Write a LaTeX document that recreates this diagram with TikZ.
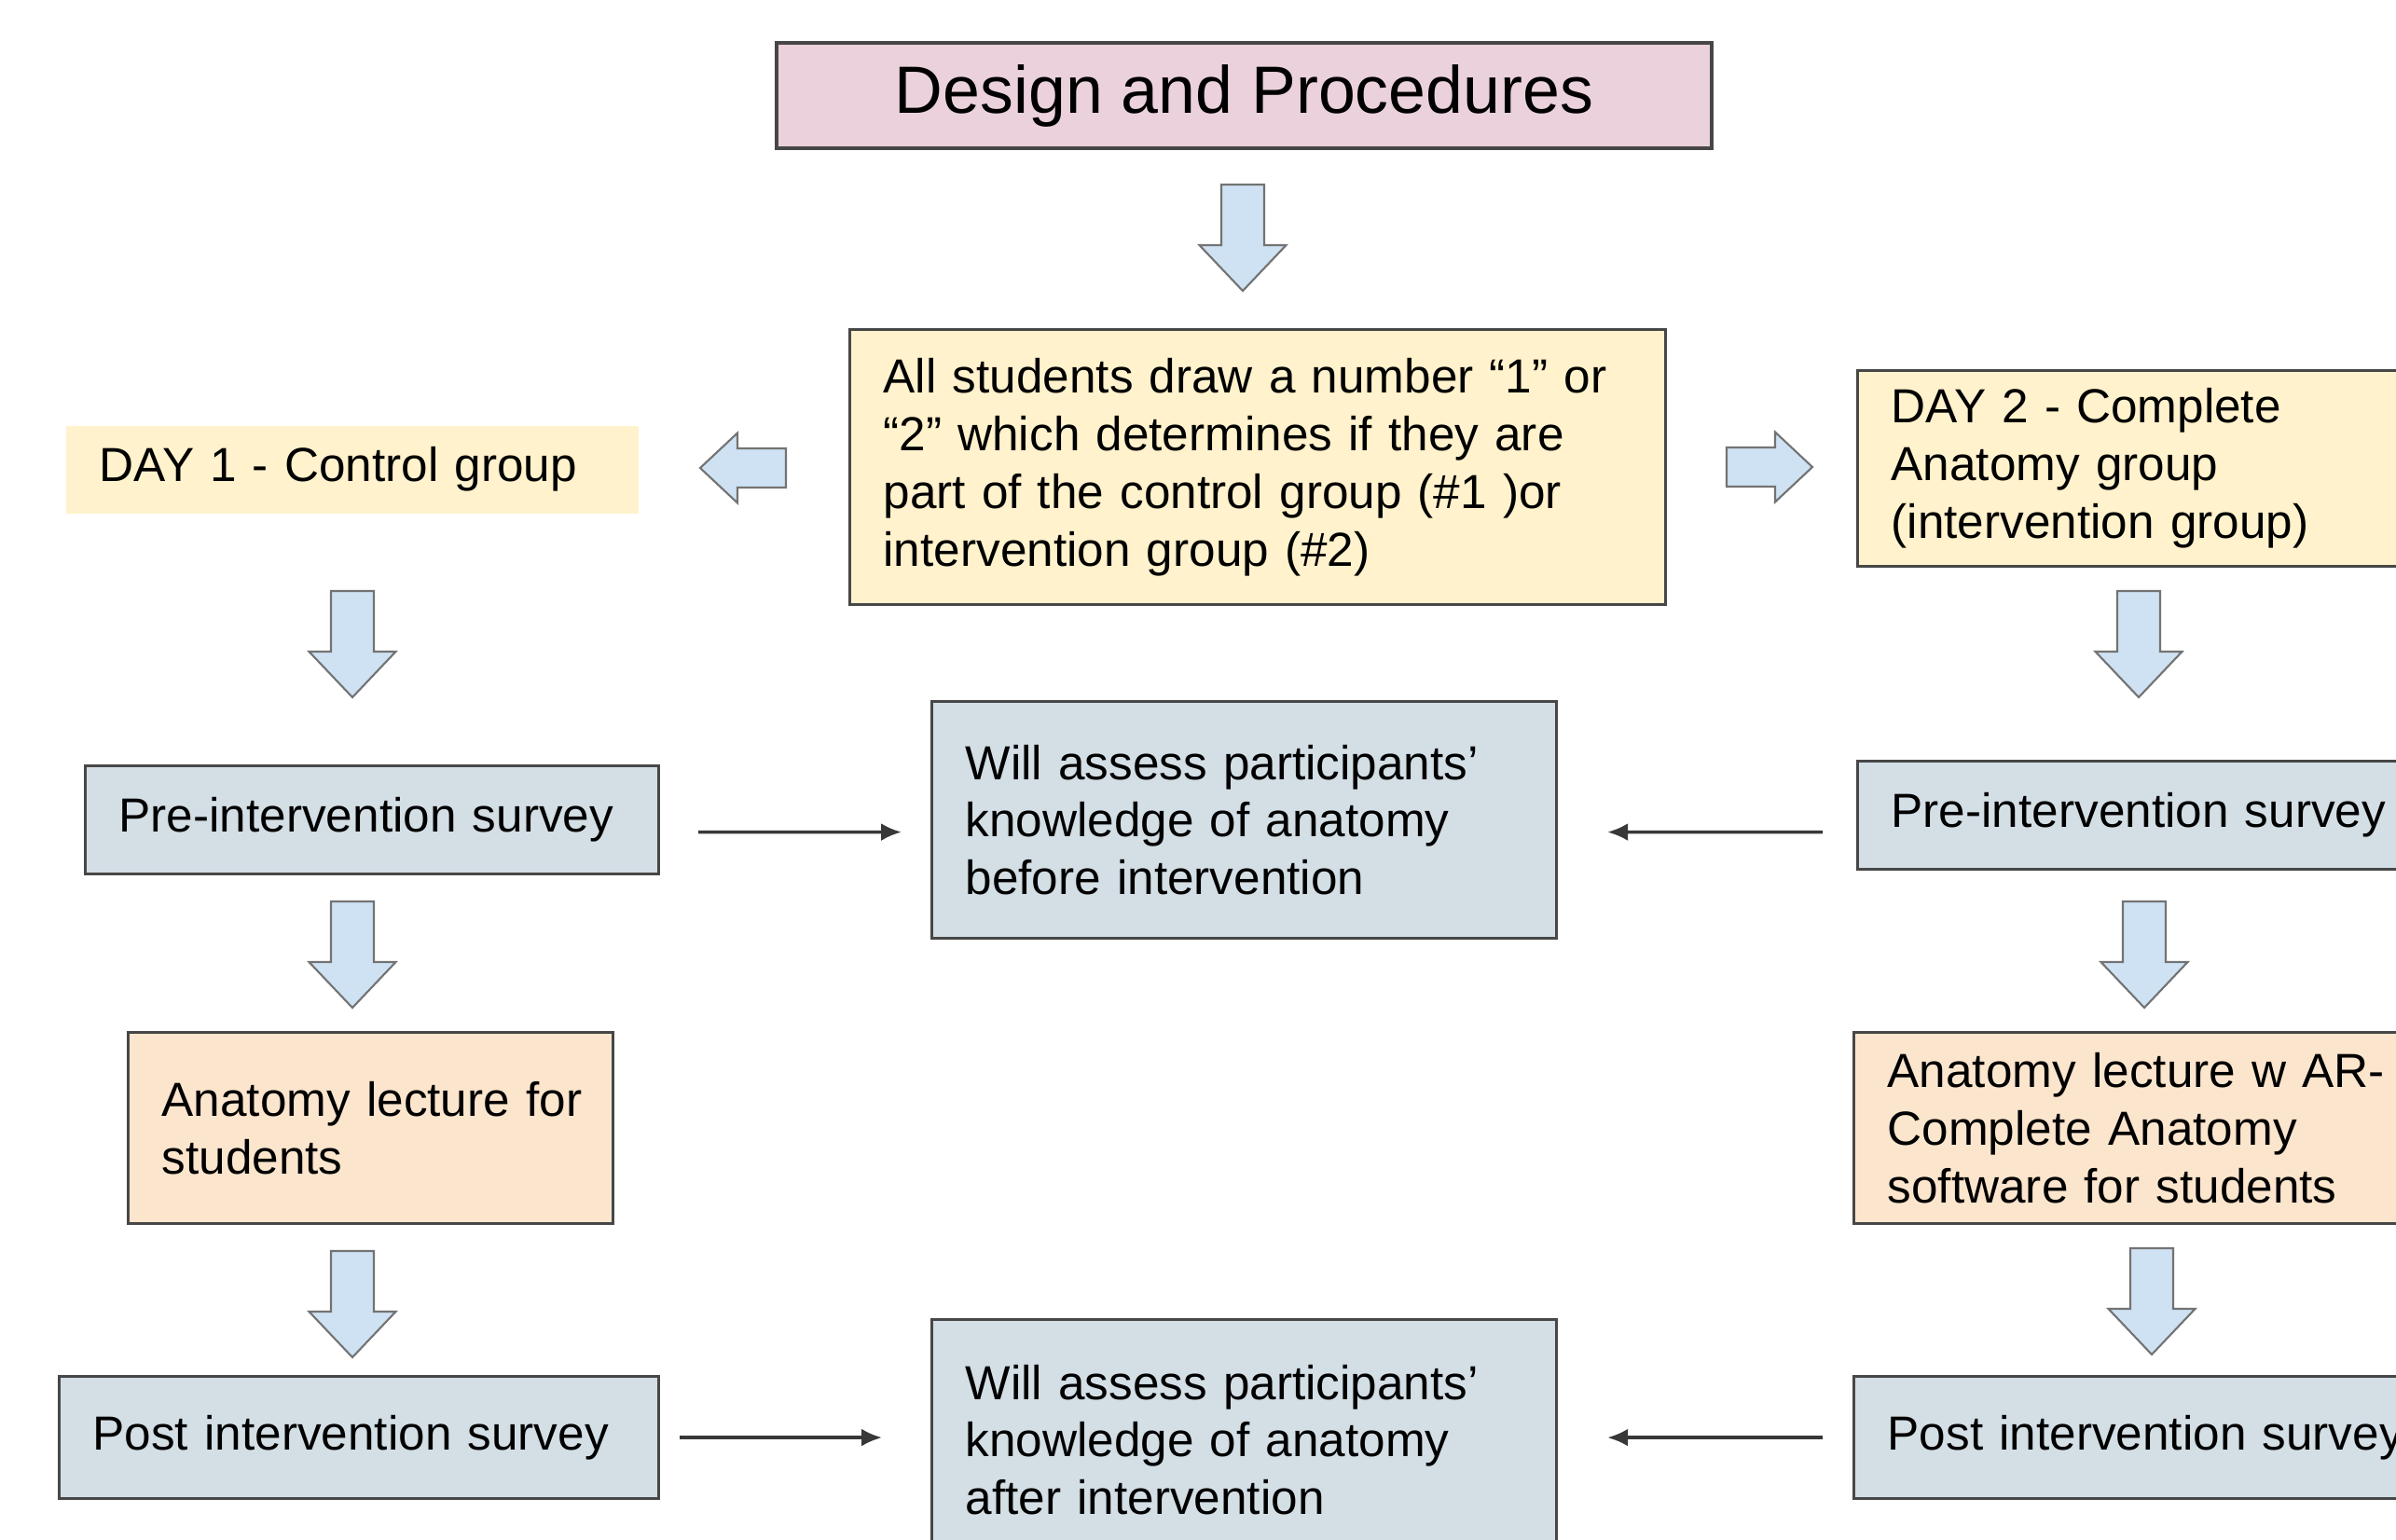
\documentclass[tikz,border=0pt]{standalone}
\usepackage{fontspec}
\setmainfont{Liberation Sans}
\usepackage{xcolor}
\usetikzlibrary{arrows.meta, positioning, calc}
\definecolor{titlepink}{HTML}{EAD1DC}
\definecolor{noteyellow}{HTML}{FFF2CC}
\definecolor{surveygrey}{HTML}{D3DEE5}
\definecolor{lecturepeach}{HTML}{FCE5CD}
\definecolor{arrowblue}{HTML}{CFE2F3}

\begin{document}
\begin{tikzpicture}[
  every node/.style={font=\fontsize{14.6}{17.6}\selectfont},
  box/.style={
    draw=black!72, line width=0.9pt, anchor=north west,
    align=left, inner xsep=0.36cm, inner ysep=0pt
  },
  daybox/.style={box, fill=noteyellow},
  surveybox/.style={box, fill=surveygrey},
  lecturebox/.style={box, fill=lecturepeach},
  titlebox/.style={
    draw=black!72, line width=0.9pt, fill=titlepink,
    minimum width=10.03cm, minimum height=1.13cm,
    font=\fontsize{20.4}{24}\selectfont
  },
  blockfill/.style={draw=black!55, line width=0.6pt, fill=arrowblue},
  downblock/.pic={
    \draw[blockfill] (-0.23,0) -- (0.23,0) -- (0.23,-0.65) -- (0.465,-0.65)
      -- (0,-1.14) -- (-0.465,-0.65) -- (-0.23,-0.65) -- cycle;
  },
  sideblock/.pic={
    \draw[blockfill] (0,0.21) -- (0.52,0.21) -- (0.52,0.375) -- (0.92,0)
      -- (0.52,-0.375) -- (0.52,-0.21) -- (0,-0.21) -- cycle;
  },
  arrow/.style={-{Latex[length=2.2mm, width=1.9mm]}, line width=1pt, draw=black!78}
]

  % Page
  \clip (0,0) rectangle (25.70,-16.52);
  \fill[white] (0,0) rectangle (25.70,-16.52);

  % Title and group draw
  \node[titlebox] (title) at (13.345,-1.025) {Design and Procedures};
  \node[daybox, text width=8.03cm, minimum height=2.95cm] (pick) at (9.10,-3.52)
    {All students draw a number “1” or\\ “2” which determines if they are\\
     part of the control group (\#1 )or\\ intervention group (\#2)};

  % Day 1 (left column)
  \node[daybox, draw=none, text width=5.42cm, minimum height=0.94cm] (dayA) at (0.69,-4.55)
    {DAY 1 - Control group};
  \node[surveybox, text width=5.43cm, minimum height=1.16cm] (preL) at (0.90,-8.20)
    {Pre-intervention survey};
  \node[lecturebox, text width=4.48cm, minimum height=2.05cm] (lectL) at (1.36,-11.06)
    {\mbox{Anatomy lecture for}\\ students};
  \node[surveybox, text width=5.71cm, minimum height=1.31cm] (postL) at (0.62,-14.75)
    {Post intervention survey};

  % Day 2 (right column)
  \node[daybox, text width=5.48cm, minimum height=2.10cm] (dayB) at (19.91,-3.96)
    {DAY 2 - Complete\\ Anatomy group\\ (intervention group)};
  \node[surveybox, text width=5.48cm, minimum height=1.16cm] (preR) at (19.91,-8.15)
    {\mbox{Pre-intervention survey}};
  \node[lecturebox, text width=5.52cm, minimum height=2.05cm] (lectR) at (19.87,-11.06)
    {\mbox{Anatomy lecture w AR-}\\ Complete Anatomy\\ \mbox{software for students}};
  \node[surveybox, text width=5.52cm, minimum height=1.31cm] (postR) at (19.87,-14.75)
    {\mbox{Post intervention survey}};

  % Assessment boxes (centre)
  \node[surveybox, text width=5.98cm, minimum height=2.54cm] (assessA) at (9.98,-7.51)
    {Will assess participants’\\ knowledge of anatomy\\ before intervention};
  \node[surveybox, text width=5.98cm, minimum height=2.58cm] (assessB) at (9.98,-14.14)
    {Will assess participants’\\ knowledge of anatomy\\ after intervention};

  % Block arrows
  \pic at (13.33,-1.98) {downblock};
  \pic[xscale=-1] at (8.43,-5.02) {sideblock};
  \pic at (18.52,-5.01) {sideblock};
  \pic at (3.78,-6.34) {downblock};
  \pic at (3.78,-9.67) {downblock};
  \pic at (3.78,-13.42) {downblock};
  \pic at (22.94,-6.34) {downblock};
  \pic at (23.00,-9.67) {downblock};
  \pic at (23.08,-13.39) {downblock};

  % Survey to assessment arrows
  \draw[arrow, shorten <=0.41cm, shorten >=0.31cm]
    ($(preL.east)+(0,-0.13)$) -- ($(assessA.west)+(0,-0.13)$);
  \draw[arrow, shorten <=0.36cm, shorten >=0.53cm]
    ($(preR.west)+(0,-0.18)$) -- ($(assessA.east)+(0,-0.13)$);
  \draw[arrow, shorten <=0.21cm, shorten >=0.52cm] (postL.east) -- (postL.east -| assessB.west);
  \draw[arrow, shorten <=0.32cm, shorten >=0.53cm] (postR.west) -- (postR.west -| assessB.east);

\end{tikzpicture}
\end{document}
